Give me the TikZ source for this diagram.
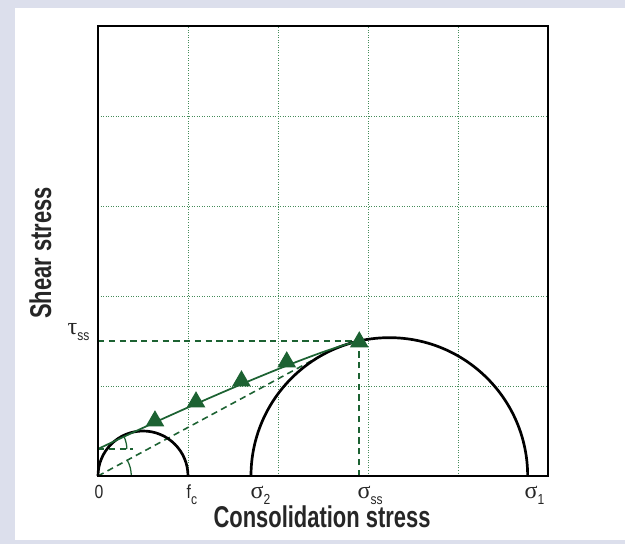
\documentclass[tikz,border=0pt]{standalone}
\usepackage{fontspec}
\setmainfont{Liberation Sans}
\newfontfamily\labelfont[FakeStretch=0.83]{Liberation Sans}
\newfontfamily\axisfont[FakeStretch=0.73]{Liberation Sans}
\newfontfamily\greekfont{Liberation Serif}
\usetikzlibrary{shapes.geometric}
\definecolor{yieldgreen}{RGB}{28,98,50}
\definecolor{gridgreen}{RGB}{70,140,90}
\definecolor{panelbg}{RGB}{220,223,236}
\newcommand{\lowsub}[1]{\raisebox{-0.72mm}{\labelfont\fontsize{4.6}{5}\selectfont #1}}
\newcommand{\sig}{{\greekfont\fontsize{7.6}{8}\selectfont σ}}
\begin{document}
\begin{tikzpicture}[
  grid line/.style={gridgreen, line width=0.3pt, dash pattern=on 0.3pt off 0.5pt},
  guide/.style={yieldgreen, line width=0.5pt, dash pattern=on 2pt off 1.4pt},
  mohr/.style={black, line width=0.85pt},
  marker/.style={regular polygon, regular polygon sides=3, fill=yieldgreen, inner sep=0pt, minimum size=0.24cm},
  ticklabel/.style={anchor=base west, inner sep=0pt, text=black!85, font=\labelfont\fontsize{6}{7}\selectfont},
  axislabel/.style={inner sep=0pt, text=black!85, font=\axisfont\bfseries\fontsize{9.5}{11}\selectfont}
]
\useasboundingbox (-1.0889,-0.7556) rectangle (5.8556,5.2889);
\fill[panelbg] (-1.0889,-0.7556) rectangle (5.8556,5.2889);
\fill[white] (-0.922,-0.711) rectangle (5.8556,5.2);

\foreach \i in {1,...,4} {
  \draw[grid line] (\i,0) -- (\i,5);
  \draw[grid line] (0,\i) -- (5,\i);
}

\coordinate (O) at (0,0);
\coordinate (fc) at (1,0);
\coordinate (s2) at (1.7,0);
\coordinate (s1) at (4.774,0);
\coordinate (c) at (0,0.3);
\coordinate (cend) at (0.39,0.3);
\coordinate (ss) at (2.9,1.5);
\coordinate (ssx) at (2.9,0);
\coordinate (ssy) at (0,1.5);
\coordinate (tp) at (2.507,1.353);

\draw[guide] (ssy) -- (ss);
\draw[guide] (ssx) -- (ss);
\draw[guide] (O) -- (tp);
\draw[guide] (c) -- (cend);

\draw[mohr] (O) arc[start angle=180, end angle=0, radius=0.5];
\draw[mohr] (s2) arc[start angle=180, end angle=0, radius=1.537];

\draw[yieldgreen, line width=0.55pt] (c) .. controls (1.0,0.78) and (2.4,1.388) .. (ss);
\draw[yieldgreen, line width=0.4pt] (0.37,0) arc[start angle=0, end angle=28.35, radius=0.37];
\draw[yieldgreen, line width=0.4pt] (0.32,0.3) arc[start angle=0, end angle=25.6, radius=0.32];

\node[marker] (t1) at (0.633,0.611) {};
\node[marker] (t2) at (1.089,0.822) {};
\node[marker] (t3) at (1.594,1.056) {};
\node[marker] (t4) at (2.097,1.267) {};
\node[marker] (t5) at (2.903,1.489) {};

\draw[black, line width=0.9pt] (0,0) rectangle (5,5);

\node[ticklabel, anchor=base] (l0) at (0.011,-0.245) {0};
\node[ticklabel] (lfc) at (0.978,-0.245) {f\lowsub{c}};
\node[ticklabel] (ls2) at (1.69,-0.245) {\sig\lowsub{2}};
\node[ticklabel] (lss) at (2.879,-0.245) {\sig\lowsub{ss}};
\node[ticklabel] (ls1) at (4.734,-0.245) {\sig\lowsub{1}};
\node[ticklabel, anchor=base east] (ltau) at (-0.089,1.575) {{\greekfont\fontsize{7.6}{8}\selectfont τ}\lowsub{ss}};

\node[axislabel, anchor=base] (xlab) at (2.489,-0.575) {Consolidation stress};
\node[axislabel, rotate=90, anchor=base] (ylab) at (-0.522,2.478) {Shear stress};
\end{tikzpicture}
\end{document}
